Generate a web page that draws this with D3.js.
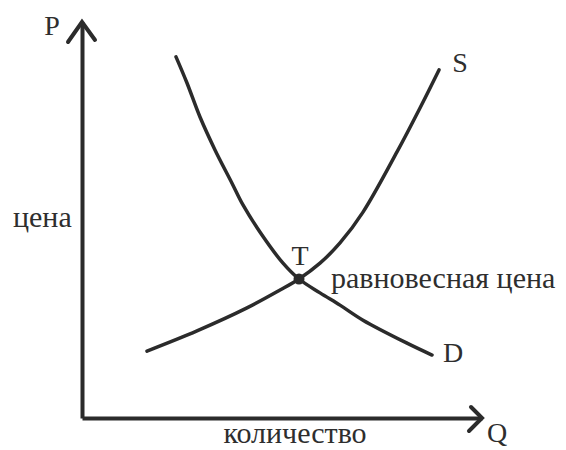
<!DOCTYPE html>
<html>
<head>
<meta charset="utf-8">
<script src="https://cdn.jsdelivr.net/npm/d3@7"></script>
<style>
  body { margin: 0; background: #fff; }
</style>
</head>
<body>
<div id="chart"></div>
<script>
// Supply / demand curves (Q and P in 0..100 units)
const demandQ = [23.5, 26.25, 29.5, 33.25, 37.5, 40.25, 45, 50.25, 54.25, 59.5, 64.5, 70.25, 81.25, 87.5];
const demandP = [91.2, 84.6, 76.0, 67.7, 59.3, 53.8, 46.2, 39.1, 35.1, 31.6, 28.5, 24.7, 18.9, 15.9];
const supplyQ = [16.25, 28.75, 41.25, 49.5, 54.25, 59.5, 64.5, 70.25, 78.75, 84.5, 89.25];
const supplyP = [16.9, 22.0, 27.8, 32.3, 35.1, 39.1, 44.2, 52.0, 67.2, 78.3, 87.9];
const equilibrium = [54.25, 35.1];

const width = 566;
const height = 450;
const margin = {left: 82, right: 84, top: 22, bottom: 32};
const ink = "#2b2b2b";
const serif = "'Liberation Serif', 'Times New Roman', 'DejaVu Serif', serif";

const svg = d3.select("#chart")
  .append("svg")
  .attr("width", width)
  .attr("height", height);

const x = d3.scaleLinear().domain([0, 100]).range([margin.left, width - margin.right]);
const y = d3.scaleLinear().domain([0, 100]).range([height - margin.bottom, margin.top]);

// axes: only the domain line, no ticks
svg.append("g")
  .attr("transform", `translate(${x(0)},0)`)
  .call(d3.axisLeft(y).ticks(0).tickSizeOuter(0))
  .select(".domain")
  .attr("stroke", ink)
  .attr("stroke-width", 4);

svg.append("g")
  .attr("transform", `translate(0,${y(0)})`)
  .call(d3.axisBottom(x).ticks(0).tickSizeOuter(0))
  .select(".domain")
  .attr("stroke", ink)
  .attr("stroke-width", 4);

// open arrow heads at the axis ends
const chevron = d3.line();
svg.append("path")
  .attr("d", chevron([[x(0) - 14, y(100) + 20], [x(0), y(100)], [x(0) + 13, y(100) + 18]]))
  .attr("fill", "none").attr("stroke", ink).attr("stroke-width", 4)
  .attr("stroke-linecap", "round");

svg.append("path")
  .attr("d", chevron([[x(100) - 11, y(0) - 11], [x(100), y(0)], [x(100) - 13, y(0) + 13]]))
  .attr("fill", "none").attr("stroke", ink).attr("stroke-width", 4)
  .attr("stroke-linecap", "round");

// curves
const curve = d3.line()
  .x(d => x(d[0]))
  .y(d => y(d[1]))
  .curve(d3.curveCatmullRom.alpha(0.5));

const demand = d3.zip(demandQ, demandP);
const supply = d3.zip(supplyQ, supplyP);

[demand, supply].forEach(pts => {
  svg.append("path")
    .attr("d", curve(pts))
    .attr("fill", "none")
    .attr("stroke", ink)
    .attr("stroke-width", 3.5)
    .attr("stroke-linecap", "round");
});

svg.append("circle")
  .attr("cx", x(equilibrium[0]))
  .attr("cy", y(equilibrium[1]))
  .attr("r", 5.5)
  .attr("fill", ink);

// labels
function label(txt, px, py, size, anchor) {
  svg.append("text")
    .attr("x", px).attr("y", py)
    .attr("font-family", serif)
    .attr("font-size", size)
    .attr("fill", "#2e2e2e")
    .attr("text-anchor", anchor || "start")
    .text(txt);
}

label("P", x(0) - 30, y(100) + 13, 28, "middle");
label("цена", x(0) - 69, 227, 30);
label("количество", (x(0) + x(100)) / 2 + 13, y(0) + 25, 30, "middle");
label("Q", x(100) + 15, y(0) + 24, 28, "middle");
label("S", x(supplyQ[supplyQ.length - 1]) + 21, y(supplyP[supplyP.length - 1]) + 2, 28, "middle");
label("T", x(equilibrium[0]) + 1, y(equilibrium[1]) - 14, 28, "middle");
label("равновесная цена", x(equilibrium[0]) + 32, y(equilibrium[1]) + 9, 30);
label("D", x(demandQ[demandQ.length - 1]) + 11, y(demandP[demandP.length - 1]) + 7, 28);
</script>
</body>
</html>
